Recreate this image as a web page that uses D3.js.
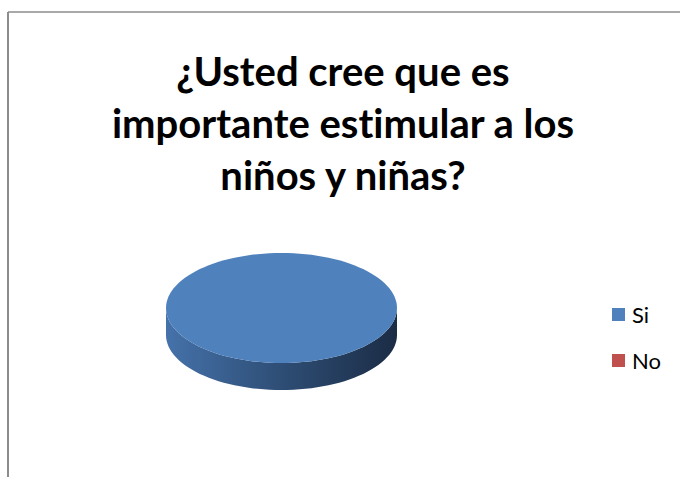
<!DOCTYPE html>
<html>
<head>
<meta charset="utf-8">
<script src="https://cdn.jsdelivr.net/npm/d3@7"></script>
<style>
  body { margin: 0; background: #fff; }
  svg { display: block; }
  text { font-variant-ligatures: none; }
</style>
</head>
<body>
<div id="chart"></div>
<script>
// data
const categories = ["Si", "No"];
const values = [100, 0];
const colors = ["#4f81bd", "#c0504d"];
const titleLines = ["¿Usted cree que es", "importante estimular a los", "niños y niñas?"];

const width = 680;
const height = 477;

const svg = d3.select("#chart")
    .append("svg")
    .attr("width", width)
    .attr("height", height);

// frame lines (chart area border)
svg.append("line")
    .attr("x1", 8).attr("y1", 12).attr("x2", width).attr("y2", 12)
    .attr("stroke", "#8c8c8c").attr("stroke-width", 1.5);
svg.append("line")
    .attr("x1", 8).attr("y1", 12).attr("x2", 8).attr("y2", height)
    .attr("stroke", "#8c8c8c").attr("stroke-width", 2);

// title
const title = svg.append("text")
    .attr("text-anchor", "middle")
    .style("font-family", "Lato, 'Open Sans', sans-serif")
    .style("font-weight", "bold")
    .style("font-size", "40px")
    .attr("fill", "#000");
title.selectAll("tspan")
    .data(titleLines)
    .enter().append("tspan")
    .attr("x", 343)
    .attr("y", (d, i) => 86 + i * 52)
    .text(d => d);

// 3D pie
const cx = 281.5, cy = 308, rx = 115.5, ry = 55, depth = 27;

const pie = d3.pie().sort(null).value(d => d);
const arcs = pie(values);

const defs = svg.append("defs");
const grad = defs.append("linearGradient")
    .attr("id", "sideGrad")
    .attr("x1", "0%").attr("x2", "100%").attr("y1", "0%").attr("y2", "0%");
grad.append("stop").attr("offset", "0%").attr("stop-color", "#4572aa");
grad.append("stop").attr("offset", "45%").attr("stop-color", "#30517a");
grad.append("stop").attr("offset", "100%").attr("stop-color", "#1b2c45");

function pt(a, dy) {
    return [cx + rx * Math.sin(a), cy - ry * Math.cos(a) + (dy || 0)];
}

function sidePath(d) {
    // only the front half of the rim (angles PI/2..3PI/2) is visible
    const a0 = Math.max(d.startAngle, Math.PI / 2);
    const a1 = Math.min(d.endAngle, 3 * Math.PI / 2);
    if (a1 <= a0) return null;
    const n = 60;
    const top = d3.range(n + 1).map(i => pt(a0 + (a1 - a0) * i / n));
    const bottom = top.slice().reverse().map(p => [p[0], p[1] + depth]);
    return d3.line()(top.concat(bottom)) + "Z";
}

function topPath(d) {
    if (d.endAngle - d.startAngle <= 0) return null;
    const n = 120;
    const pts = d3.range(n + 1).map(i => pt(d.startAngle + (d.endAngle - d.startAngle) * i / n));
    if (d.endAngle - d.startAngle < 2 * Math.PI - 1e-6) pts.push([cx, cy]);
    return d3.line()(pts) + "Z";
}

svg.selectAll(".side")
    .data(arcs.filter(d => d.value > 0))
    .enter().append("path")
    .attr("class", "side")
    .attr("d", sidePath)
    .attr("fill", "url(#sideGrad)");

svg.selectAll(".top")
    .data(arcs.filter(d => d.value > 0))
    .enter().append("path")
    .attr("class", "top")
    .attr("d", topPath)
    .attr("fill", (d, i) => colors[d.index]);

// legend
const legend = svg.append("g")
    .attr("transform", "translate(612, 308)");

legend.selectAll("rect")
    .data(categories)
    .enter().append("rect")
    .attr("x", 0)
    .attr("y", (d, i) => i * 46)
    .attr("width", 13)
    .attr("height", 13)
    .attr("fill", (d, i) => colors[i]);

legend.selectAll("text")
    .data(categories)
    .enter().append("text")
    .attr("x", 20)
    .attr("y", (d, i) => i * 46 + 7)
    .attr("dy", "0.35em")
    .style("font-family", "Lato, 'Open Sans', sans-serif")
    .style("font-size", "22px")
    .attr("fill", "#000")
    .text(d => d);
</script>
</body>
</html>
